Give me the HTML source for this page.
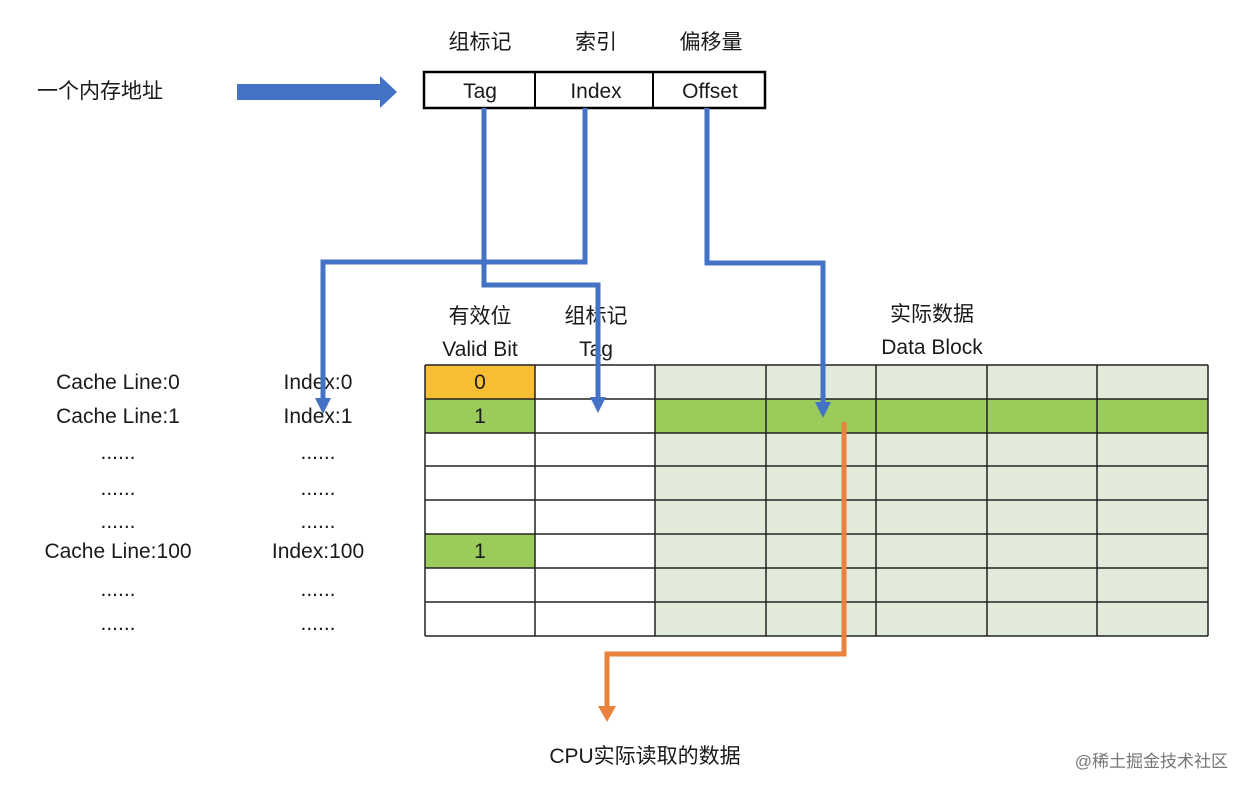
<!DOCTYPE html>
<html><head><meta charset="utf-8"><style>
html,body{margin:0;padding:0;background:#fff;}
svg text{font-family:"Liberation Sans","Noto Sans CJK SC",sans-serif;fill:#1a1a1a;}
</style></head><body>
<svg width="1250" height="792" viewBox="0 0 1250 792" xmlns="http://www.w3.org/2000/svg">
<rect width="1250" height="792" fill="#fff"/>
<!-- top labels -->
<g font-size="21" text-anchor="middle">
<text x="480" y="49">组标记</text>
<text x="596" y="49">索引</text>
<text x="711" y="49">偏移量</text>
<text x="100" y="98">一个内存地址</text>
</g>
<!-- thick arrow -->
<polygon points="237,84 380,84 380,76 397,92 380,108 380,100 237,100" fill="#4472C4"/>
<!-- address box -->
<rect x="424" y="72" width="341" height="36" fill="#fff" stroke="#000" stroke-width="2.5"/>
<line x1="535" y1="72" x2="535" y2="108" stroke="#000" stroke-width="2"/>
<line x1="653" y1="72" x2="653" y2="108" stroke="#000" stroke-width="2"/>
<g font-size="21" text-anchor="middle">
<text x="480" y="98">Tag</text>
<text x="596" y="98">Index</text>
<text x="710" y="98">Offset</text>
</g>
<!-- table -->
<g>
<rect x="655" y="365" width="553" height="271" fill="#E2EBD9"/>
<rect x="655" y="399" width="553" height="34" fill="#9BCB5A"/>
<rect x="425" y="365" width="110" height="34" fill="#F7BD33"/>
<rect x="425" y="399" width="110" height="34" fill="#9BCB5A"/>
<rect x="425" y="534" width="110" height="34" fill="#9BCB5A"/>
<g stroke="#222" stroke-width="1.5">
<line x1="425" y1="365" x2="1208" y2="365"/>
<line x1="425" y1="399" x2="1208" y2="399"/>
<line x1="425" y1="433" x2="1208" y2="433"/>
<line x1="425" y1="466" x2="1208" y2="466"/>
<line x1="425" y1="500" x2="1208" y2="500"/>
<line x1="425" y1="534" x2="1208" y2="534"/>
<line x1="425" y1="568" x2="1208" y2="568"/>
<line x1="425" y1="602" x2="1208" y2="602"/>
<line x1="425" y1="636" x2="1208" y2="636"/>
<line x1="425" y1="365" x2="425" y2="636"/>
<line x1="535" y1="365" x2="535" y2="636"/>
<line x1="655" y1="365" x2="655" y2="636"/>
<line x1="766" y1="365" x2="766" y2="636"/>
<line x1="876" y1="365" x2="876" y2="636"/>
<line x1="987" y1="365" x2="987" y2="636"/>
<line x1="1097" y1="365" x2="1097" y2="636"/>
<line x1="1208" y1="365" x2="1208" y2="636"/>
</g>
</g>
<g font-size="21" text-anchor="middle">
<text x="480" y="389">0</text>
<text x="480" y="423">1</text>
<text x="480" y="558">1</text>
<text x="480" y="323">有效位</text>
<text x="480" y="356">Valid Bit</text>
<text x="596" y="323">组标记</text>
<text x="596" y="356">Tag</text>
<text x="932" y="321">实际数据</text>
<text x="932" y="354">Data Block</text>
<text x="118" y="389">Cache Line:0</text>
<text x="118" y="423">Cache Line:1</text>
<text x="118" y="459">......</text>
<text x="118" y="495">......</text>
<text x="118" y="528">......</text>
<text x="118" y="558">Cache Line:100</text>
<text x="118" y="596">......</text>
<text x="118" y="630">......</text>
<text x="318" y="389">Index:0</text>
<text x="318" y="423">Index:1</text>
<text x="318" y="459">......</text>
<text x="318" y="495">......</text>
<text x="318" y="528">......</text>
<text x="318" y="558">Index:100</text>
<text x="318" y="596">......</text>
<text x="318" y="630">......</text>
<text x="645" y="763">CPU实际读取的数据</text>
</g>
<text x="1228" y="767" font-size="17" text-anchor="end" style="fill:#777">@稀土掘金技术社区</text>
<!-- blue connectors -->
<g fill="none" stroke="#4472C4" stroke-width="5">
<polyline points="484,108 484,285 598,285 598,400"/>
<polyline points="585,108 585,262 323,262 323,400"/>
<polyline points="707,108 707,263 823,263 823,404"/>
</g>
<g fill="#4472C4">
<polygon points="315,398 331,398 323,414"/>
<polygon points="590,397 606,397 598,413"/>
<polygon points="815,402 831,402 823,418"/>
</g>
<!-- orange connector -->
<polyline points="844,422 844,654 607,654 607,708" fill="none" stroke="#E8823D" stroke-width="5"/>
<polygon points="598,706 616,706 607,722" fill="#E8823D"/>
</svg>
</body></html>
